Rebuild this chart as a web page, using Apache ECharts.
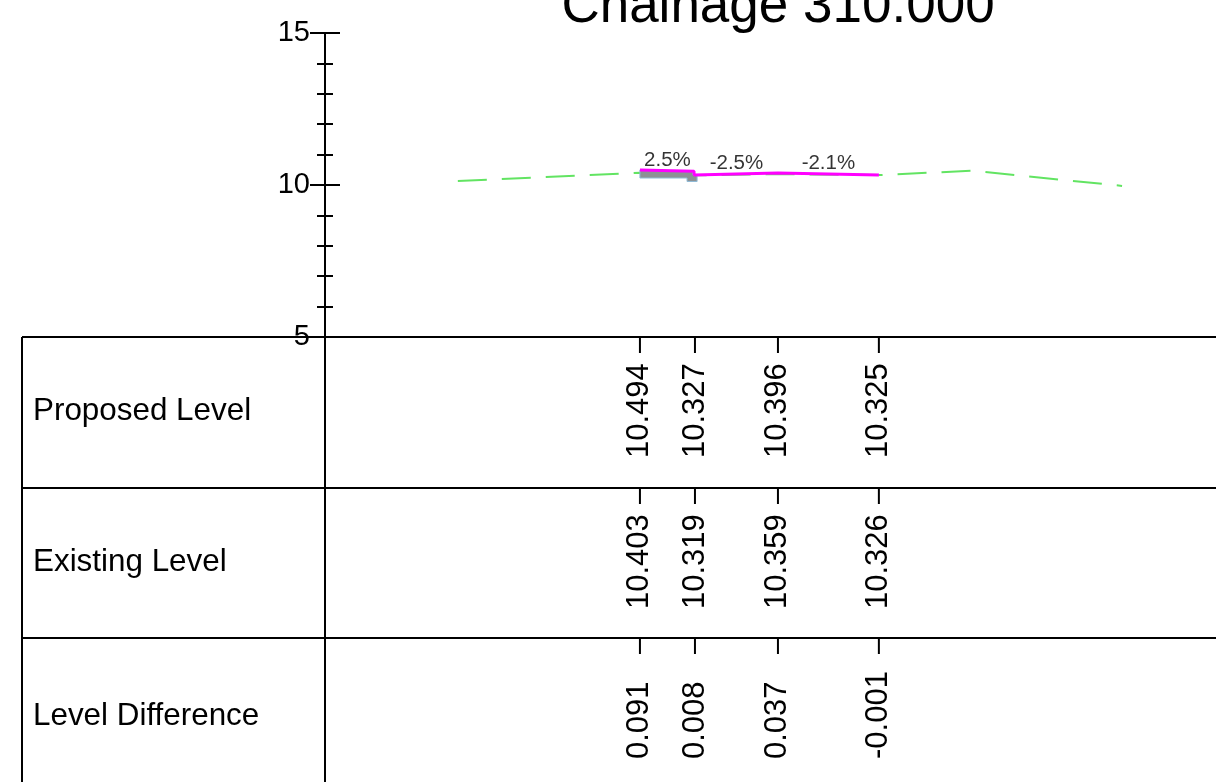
<!DOCTYPE html>
<html>
<head>
<meta charset="utf-8">
<script src="https://cdn.jsdelivr.net/npm/echarts@6/dist/echarts.min.js"></script>
<style>
html,body{margin:0;padding:0;background:#fff;}
#chart{width:1216px;height:782px;}
</style>
</head>
<body>
<div id="chart"></div>
<script>
// ---- data ----
const titleText = 'Chainage 310.000';
const rowNames = ['Proposed Level', 'Existing Level', 'Level Difference'];
// offsets (m) of the tabulated points
const pointOffsets = [-4.54, -2.73, 0, 3.32];
const proposedLevels = [10.494, 10.327, 10.396, 10.325];
const existingLevels = [10.403, 10.319, 10.359, 10.326];
const levelDifferences = [0.091, 0.008, 0.037, -0.001];
// proposed surface line (offset, level)
const proposedLineX = [-4.54, -2.76, -2.76, -2.73, 0, 3.32];
const proposedLineY = [10.494, 10.45, 10.327, 10.327, 10.396, 10.325];
// existing ground line (offset, level)
const existingLineX = [-10.53, -4.54, -2.73, 0, 3.32, 6.41, 11.32];
const existingLineY = [10.13, 10.403, 10.319, 10.359, 10.326, 10.47, 9.97];
// kerb outline (offset, level)
const kerbX = [-4.54, -2.80, -2.80, -2.66, -2.66, -2.99, -2.99, -4.54];
const kerbY = [10.494, 10.45, 10.33, 10.33, 10.115, 10.115, 10.23, 10.23];
// grade labels at segment midpoints
const gradeLabels = ['2.5%', '-2.5%', '-2.1%'];
const gradeX = [-3.635, -1.365, 1.66];
const gradeY = [10.472, 10.3615, 10.3605];
// y axis
const yMin = 5, yMax = 15, yStep = 5;
const xMin = -14.9, xMax = 14.41;

const FONT = '"Liberation Sans", Arial, sans-serif';
const chart = echarts.init(document.getElementById('chart'), null, {renderer: 'canvas'});

const zip = (a, b) => a.map((v, i) => [v, b[i]]);

const rowTops = [337, 488, 638];
const rowHeights = [151, 150, 150];
const rowValues = [
  proposedLevels.map(v => v.toFixed(3)),
  existingLevels.map(v => v.toFixed(3)),
  levelDifferences.map(v => v.toFixed(3))
];

const grids = [{left: 325, top: 33, width: 891, height: 304}];
const xAxes = [{gridIndex: 0, type: 'value', min: xMin, max: xMax, show: false}];
const yAxes = [
  {
    gridIndex: 0, type: 'value', min: yMin, max: yMax, interval: yStep, position: 'left',
    axisLine: {show: true, onZero: false, lineStyle: {color: '#000', width: 2}},
    axisTick: {show: true, inside: false, length: 15, lineStyle: {color: '#000', width: 2}},
    minorTick: {show: true, splitNumber: 5, length: 8, lineStyle: {color: '#000', width: 2}},
    splitLine: {show: false},
    axisLabel: {color: '#000', fontSize: 29, fontFamily: FONT, margin: 15}
  },
  {
    gridIndex: 0, type: 'value', min: yMin, max: yMax, interval: yStep, position: 'left', offset: 0,
    axisLine: {show: false, onZero: false},
    axisTick: {show: true, inside: true, length: 15, lineStyle: {color: '#000', width: 2}},
    minorTick: {show: true, splitNumber: 5, length: 8, lineStyle: {color: '#000', width: 2}},
    splitLine: {show: false},
    axisLabel: {show: false}
  }
];

const series = [
  {
    type: 'line', xAxisIndex: 0, yAxisIndex: 0, data: zip(existingLineX, existingLineY),
    showSymbol: false, symbol: 'none', z: 2,
    lineStyle: {color: '#62e462', width: 2, type: [29, 15]}
  },
  {
    type: 'custom', xAxisIndex: 0, yAxisIndex: 0, z: 3,
    data: [0],
    renderItem: function (params, api) {
      const pts = kerbX.map((x, i) => api.coord([x, kerbY[i]]));
      return {type: 'polygon', shape: {points: pts},
        style: {fill: '#8d9194', stroke: '#8fbad6', lineWidth: 1}};
    }
  },
  {
    type: 'line', xAxisIndex: 0, yAxisIndex: 0, data: zip(proposedLineX, proposedLineY),
    showSymbol: false, symbol: 'none', z: 4,
    lineStyle: {color: '#ff00ff', width: 3}
  },
  {
    type: 'scatter', xAxisIndex: 0, yAxisIndex: 0, z: 5,
    data: gradeX.map((x, i) => ({value: [x, gradeY[i]], name: gradeLabels[i]})),
    symbolSize: 0,
    label: {show: true, position: 'top', distance: 0, formatter: p => p.name,
      color: '#000', fontSize: 20.5, fontFamily: FONT}
  }
];

rowTops.forEach((top, r) => {
  grids.push({left: 325, top: top, width: 891, height: rowHeights[r]});
  xAxes.push({gridIndex: r + 1, type: 'value', min: xMin, max: xMax, show: false});
  yAxes.push({gridIndex: r + 1, type: 'value', min: 0, max: 1, show: false});
  series.push({
    type: 'custom', xAxisIndex: r + 1, yAxisIndex: r + 2, z: 5,
    data: pointOffsets.map((o, i) => [o, i]),
    renderItem: function (params, api) {
      const pt = api.coord([api.value(0), 0]);
      const x = pt[0];
      const t = params.coordSys.y;
      const txt = rowValues[r][api.value(1)];
      return {type: 'group', children: [
        {type: 'line', shape: {x1: x, y1: t, x2: x, y2: t + 16}, style: {stroke: '#000', lineWidth: 2}},
        {type: 'text', x: x, y: t + 121, rotation: Math.PI / 2,
          style: {text: txt, fill: '#000', font: '31px ' + FONT, align: 'left', verticalAlign: 'middle'}}
      ]};
    }
  });
});

const lineStyle = {stroke: '#000', lineWidth: 2};
const graphics = [
  {type: 'text', x: 778, y: 34, z: 10,
    style: {text: titleText, fill: '#000', font: '53px ' + FONT, align: 'center', verticalAlign: 'bottom'}},
  {type: 'line', shape: {x1: 22, y1: 337, x2: 1216, y2: 337}, style: lineStyle, z: 10},
  {type: 'line', shape: {x1: 22, y1: 488, x2: 1216, y2: 488}, style: lineStyle, z: 10},
  {type: 'line', shape: {x1: 22, y1: 638, x2: 1216, y2: 638}, style: lineStyle, z: 10},
  {type: 'line', shape: {x1: 22, y1: 337, x2: 22, y2: 782}, style: lineStyle, z: 10},
  {type: 'line', shape: {x1: 325, y1: 337, x2: 325, y2: 782}, style: lineStyle, z: 10}
];
const rowLabelY = [411, 562, 716];
rowNames.forEach((n, i) => {
  graphics.push({type: 'text', x: 33, y: rowLabelY[i], z: 10,
    style: {text: n, fill: '#000', font: '31.4px ' + FONT, align: 'left', verticalAlign: 'middle'}});
});

chart.setOption({
  animation: false,
  backgroundColor: '#fff',
  grid: grids,
  xAxis: xAxes,
  yAxis: yAxes,
  series: series,
  graphic: graphics
});
</script>
</body>
</html>
